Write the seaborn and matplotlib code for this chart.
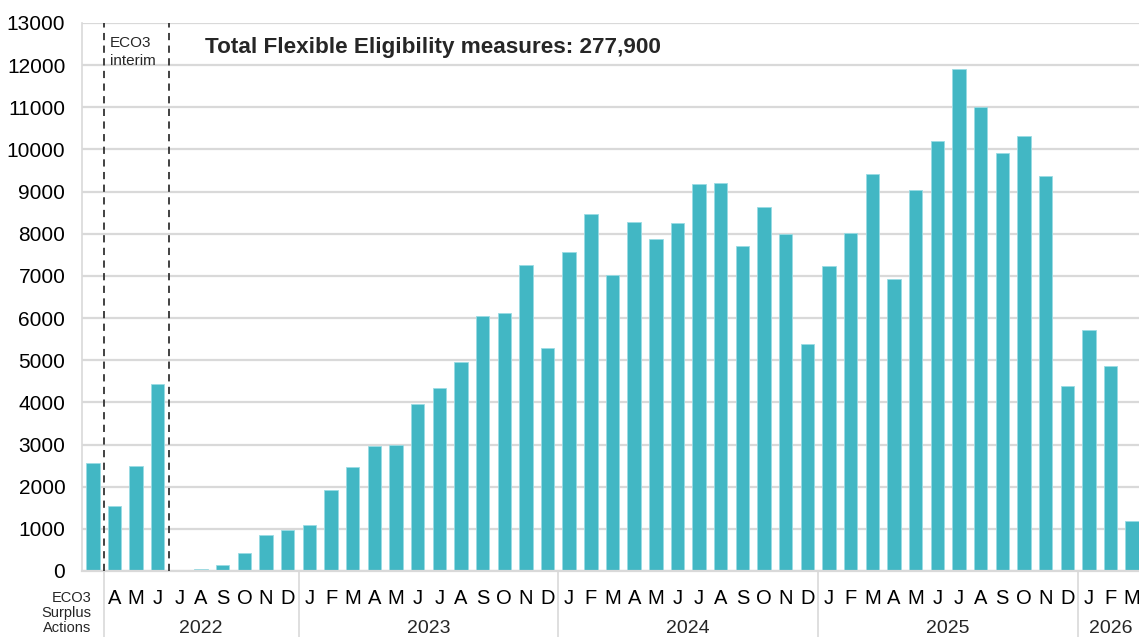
import matplotlib
matplotlib.use("Agg")
import matplotlib.pyplot as plt
import matplotlib.transforms as mtransforms
import seaborn as sns
import pandas as pd

# Monthly Flexible Eligibility measures
surplus_label = "ECO3\nSurplus\nActions"
surplus_value = [2560]

months_2022 = ["A", "M", "J", "J", "A", "S", "O", "N", "D"]
values_2022 = [1540, 2480, 4430, 0, 40, 140, 430, 850, 970]

months_full = ["J", "F", "M", "A", "M", "J", "J", "A", "S", "O", "N", "D"]
values_2023 = [1090, 1930, 2460, 2960, 2990, 3960, 4340, 4950, 6050, 6110, 7260, 5280]
values_2024 = [7570, 8470, 7030, 8280, 7870, 8260, 9180, 9210, 7710, 8630, 7990, 5390]
values_2025 = [7230, 8030, 9420, 6920, 9040, 10210, 11900, 11010, 9920, 10330, 9370, 4400]

months_2026 = ["J", "F", "M"]
values_2026 = [5720, 4860, 1190]

years = ["2022", "2023", "2024", "2025", "2026"]
title_text = "Total Flexible Eligibility measures: 277,900"
interim_text = "ECO3\ninterim"

# Assemble a long table with a unique key per bar
rows = [("surplus", "", "", surplus_value[0])]
for yr, ms, vs in [("2022", months_2022, values_2022),
                   ("2023", months_full, values_2023),
                   ("2024", months_full, values_2024),
                   ("2025", months_full, values_2025),
                   ("2026", months_2026, values_2026)]:
    for i, (m, v) in enumerate(zip(ms, vs)):
        rows.append((f"{yr}-{i:02d}", yr, m, v))
df = pd.DataFrame(rows, columns=["key", "year", "month", "value"])

sns.set_theme(style="white")
plt.rcParams["font.family"] = ["Liberation Sans", "DejaVu Sans"]

fig = plt.figure(figsize=(11.39, 6.37), dpi=100)
ax = fig.add_axes([82 / 1139, 66 / 637, 1061 / 1139, 548 / 637])

bar_color = "#42B7C4"
sns.barplot(data=df, x="key", y="value", order=list(df["key"]), color=bar_color,
            width=0.62, saturation=1, edgecolor="#9ADCE4", linewidth=0.6, ax=ax)

n = len(df)
ax.set_xlim(-0.5, n - 0.5)
ax.set_ylim(0, 13000)
ax.set_yticks(range(0, 13001, 1000))
ax.yaxis.grid(True, color="#D9D9D9", linewidth=1.6)
ax.set_axisbelow(True)
ax.set_xlabel("")
ax.set_ylabel("")

for side in ["top", "right"]:
    ax.spines[side].set_visible(False)
ax.spines["left"].set_color("#D9D9D9")
ax.spines["left"].set_linewidth(1.2)
ax.spines["bottom"].set_color("#D9D9D9")
ax.spines["bottom"].set_linewidth(1.6)

ax.tick_params(axis="y", labelsize=15, colors="#D9D9D9", labelcolor="black",
               length=5, width=1.2, pad=7)

# Month letters as category labels, separators as minor ticks
ax.set_xticks(range(n))
ax.set_xticklabels(list(df["month"]), fontsize=14.5)
ax.tick_params(axis="x", which="major", length=0, pad=13, labelcolor="black")
ax.set_xticks([i - 0.5 for i in range(n + 1)], minor=True)
ax.tick_params(axis="x", which="minor", length=24.5, width=1.2, color="#D9D9D9")

trans = mtransforms.blended_transform_factory(ax.transData, ax.transAxes)

# Longer separators between year groups
year_edges = [0.5]
pos = 1
group_sizes = [len(values_2022), 12, 12, 12, len(values_2026)]
centers = []
for size in group_sizes:
    centers.append(pos + (size - 1) / 2)
    pos += size
    year_edges.append(pos - 0.5)
for xe in year_edges[:-1]:
    ax.plot([xe, xe], [0, -0.125], transform=trans, color="#D9D9D9",
            linewidth=1.2, clip_on=False)

for yr, xc in zip(years, centers):
    ax.text(xc, -0.1045, yr, transform=trans, ha="center", va="center", fontsize=14)

ax.text(-0.08, -0.076, surplus_label, transform=trans, ha="right", va="center",
        fontsize=10.5, linespacing=1.1)

# ECO3 interim period markers
for xd in [0.5, 3.5]:
    ax.plot([xd, xd], [0, 13000], color="#333333", linewidth=1.3,
            linestyle=(0, (4, 3)), zorder=3)
ax.text(0.78, 12680, interim_text, ha="left", va="top", fontsize=11,
        linespacing=1.3)

ax.text(5.2, 12430, title_text, ha="left", va="center", fontsize=16.2,
        fontweight="bold")

fig.savefig("out.png", dpi=100)
